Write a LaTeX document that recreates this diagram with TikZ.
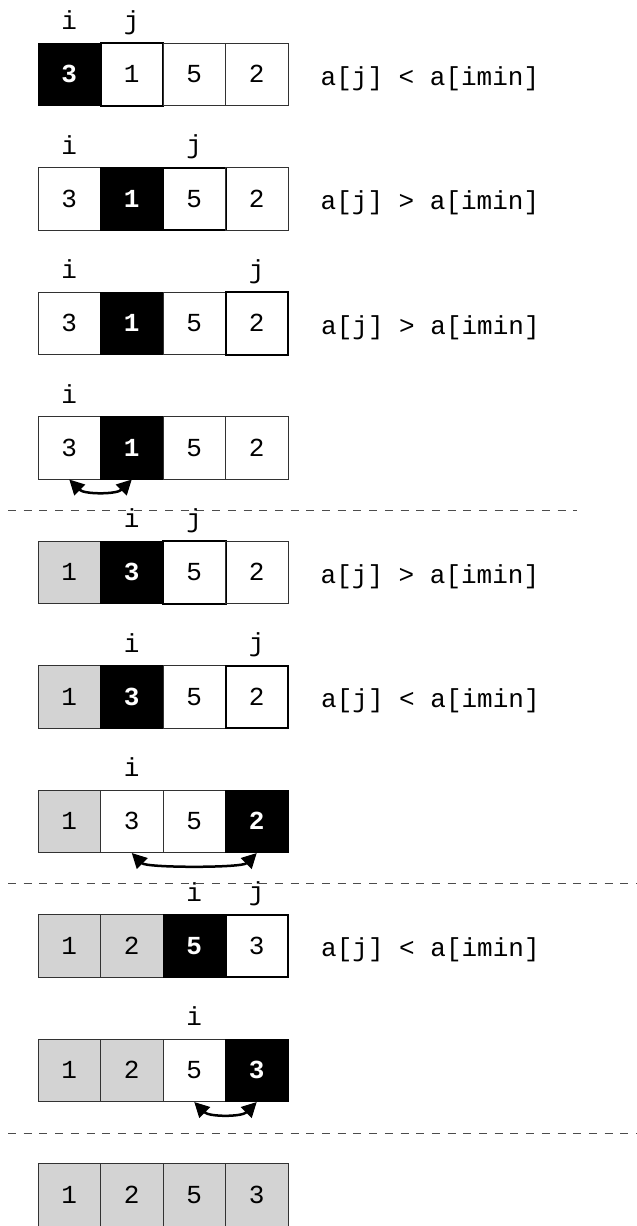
\documentclass[tikz,border=0pt]{standalone}
\usepackage{fontspec}
\usepackage{xcolor}
\usetikzlibrary{arrows.meta, calc}
\newfontfamily\codefont{Liberation Mono}
\definecolor{donegray}{RGB}{211,211,211}
\definecolor{edgegray}{RGB}{50,50,50}
\tikzset{
  cell/.style={rectangle, draw=edgegray, line width=1pt, minimum width=62.5pt,
               minimum height=62.5pt, inner sep=0pt,
               font=\codefont\fontsize{26}{30}\selectfont},
  mincell/.style={cell, fill=black, draw=black, text=white,
                  font=\codefont\bfseries\fontsize{26}{30}\selectfont},
  jcell/.style={cell, draw=black, line width=2pt},
  donecell/.style={cell, fill=donegray},
  lbl/.style={anchor=base, inner sep=0pt, font=\codefont\fontsize{26}{30}\selectfont},
  cmp/.style={anchor=base west, inner sep=0pt, font=\codefont\fontsize{26}{30}\selectfont},
  swaparrow/.style={{Triangle[length=15pt, width=15pt]}-{Triangle[length=15pt, width=15pt]}, line width=2.5pt},
  sepline/.style={draw=black!70, line width=1pt, dash pattern=on 8pt off 7.7pt},
}

\begin{document}
\begin{tikzpicture}[x=1pt, y=-1pt]
  \useasboundingbox (0,0) rectangle (637,1226);

  % row 1
  \foreach \v/\s [count=\k] in {3/mincell, 1/jcell, 5/cell, 2/cell}
    \node[\s] (r1c\k) at (6.75+62.5*\k, 74.25) {\v};
  \node[lbl] (r1i) at ([yshift=13pt]r1c1.north) {i};
  \node[lbl] (r1j) at ([yshift=13pt]r1c2.north) {j};
  \node[cmp] (r1t) at ([xshift=32pt, yshift=-11pt]r1c4.east) {a[j] < a[imin]};

  % row 2
  \foreach \v/\s [count=\k] in {3/cell, 1/mincell, 5/jcell, 2/cell}
    \node[\s] (r2c\k) at (6.75+62.5*\k, 198.75) {\v};
  \node[lbl] (r2i) at ([yshift=13pt]r2c1.north) {i};
  \node[lbl] (r2j) at ([yshift=13pt]r2c3.north) {j};
  \node[cmp] (r2t) at ([xshift=32pt, yshift=-11pt]r2c4.east) {a[j] > a[imin]};

  % row 3
  \foreach \v/\s [count=\k] in {3/cell, 1/mincell, 5/cell, 2/jcell}
    \node[\s] (r3c\k) at (6.75+62.5*\k, 323.25) {\v};
  \node[lbl] (r3i) at ([yshift=13pt]r3c1.north) {i};
  \node[lbl] (r3j) at ([yshift=13pt]r3c4.north) {j};
  \node[cmp] (r3t) at ([xshift=32pt, yshift=-11pt]r3c4.east) {a[j] > a[imin]};

  % row 4: swap
  \foreach \v/\s [count=\k] in {3/cell, 1/mincell, 5/cell, 2/cell}
    \node[\s] (r4c\k) at (6.75+62.5*\k, 447.75) {\v};
  \node[lbl] (r4i) at ([yshift=13pt]r4c1.north) {i};
  \draw[swaparrow] (r4c1.south) .. controls +(15,15) and +(-15,15) .. (r4c2.south);

  \coordinate (sep1w) at (8,510);
  \coordinate (sep1e) at (577,510);
  \draw[sepline] (sep1w) -- (sep1e);

  % row 5
  \foreach \v/\s [count=\k] in {1/donecell, 3/mincell, 5/jcell, 2/cell}
    \node[\s] (r5c\k) at (6.75+62.5*\k, 572.25) {\v};
  \node[lbl] (r5i) at ([yshift=13pt]r5c2.north) {i};
  \node[lbl] (r5j) at ([yshift=13pt]r5c3.north) {j};
  \node[cmp] (r5t) at ([xshift=32pt, yshift=-11pt]r5c4.east) {a[j] > a[imin]};

  % row 6
  \foreach \v/\s [count=\k] in {1/donecell, 3/mincell, 5/cell, 2/jcell}
    \node[\s] (r6c\k) at (6.75+62.5*\k, 696.75) {\v};
  \node[lbl] (r6i) at ([yshift=13pt]r6c2.north) {i};
  \node[lbl] (r6j) at ([yshift=13pt]r6c4.north) {j};
  \node[cmp] (r6t) at ([xshift=32pt, yshift=-11pt]r6c4.east) {a[j] < a[imin]};

  % row 7: swap
  \foreach \v/\s [count=\k] in {1/donecell, 3/cell, 5/cell, 2/mincell}
    \node[\s] (r7c\k) at (6.75+62.5*\k, 821.25) {\v};
  \node[lbl] (r7i) at ([yshift=13pt]r7c2.north) {i};
  \draw[swaparrow] (r7c2.south) .. controls +(15,15) and +(-15,15) .. (r7c4.south);

  \coordinate (sep2w) at (8,883);
  \coordinate (sep2e) at (645,883);
  \draw[sepline] (sep2w) -- (sep2e);

  % row 8
  \foreach \v/\s [count=\k] in {1/donecell, 2/donecell, 5/mincell, 3/jcell}
    \node[\s] (r8c\k) at (6.75+62.5*\k, 945.75) {\v};
  \node[lbl] (r8i) at ([yshift=13pt]r8c3.north) {i};
  \node[lbl] (r8j) at ([yshift=13pt]r8c4.north) {j};
  \node[cmp] (r8t) at ([xshift=32pt, yshift=-11pt]r8c4.east) {a[j] < a[imin]};

  % row 9: swap
  \foreach \v/\s [count=\k] in {1/donecell, 2/donecell, 5/cell, 3/mincell}
    \node[\s] (r9c\k) at (6.75+62.5*\k, 1070.25) {\v};
  \node[lbl] (r9i) at ([yshift=13pt]r9c3.north) {i};
  \draw[swaparrow] (r9c3.south) .. controls +(15,15) and +(-15,15) .. (r9c4.south);

  \coordinate (sep3w) at (8,1133);
  \coordinate (sep3e) at (645,1133);
  \draw[sepline] (sep3w) -- (sep3e);

  % row 10: sorted
  \foreach \v [count=\k] in {1, 2, 5, 3}
    \node[donecell] (r10c\k) at (6.75+62.5*\k, 1194.75) {\v};
\end{tikzpicture}
\end{document}
